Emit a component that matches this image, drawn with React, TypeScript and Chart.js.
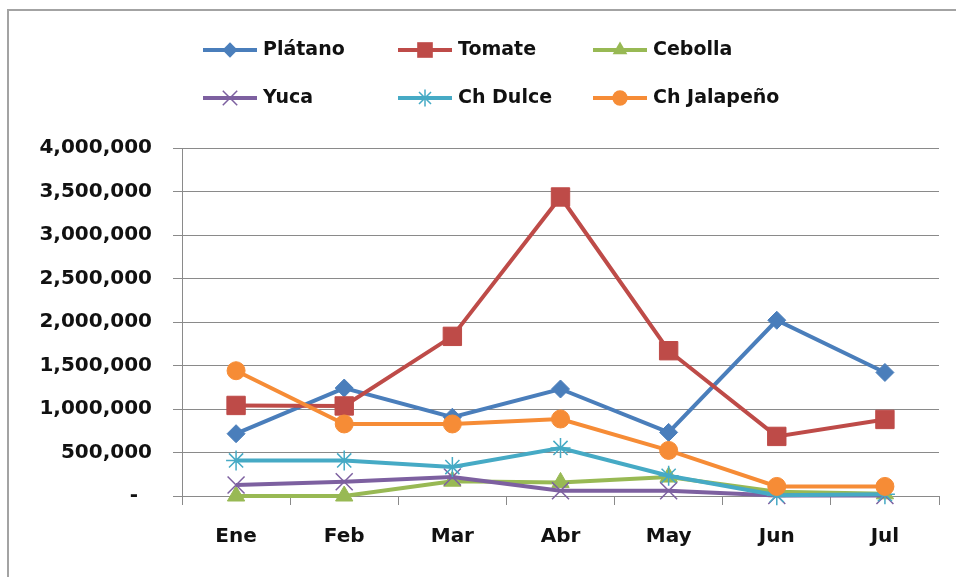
import React, { useEffect, useRef } from "react";
import { Chart, registerables } from "chart.js";

Chart.register(...registerables);

const months = ["Ene", "Feb", "Mar", "Abr", "May", "Jun", "Jul"];
const seriesNames = ["Plátano", "Tomate", "Cebolla", "Yuca", "Ch Dulce", "Ch Jalapeño"];
const platano = [716000, 1241000, 905000, 1230000, 731000, 2020000, 1420000];
const tomate = [1041000, 1035000, 1835000, 3437000, 1670000, 685000, 880000];
const cebolla = [0, 0, 170000, 156000, 218000, 50000, 25000];
const yuca = [126000, 164000, 218000, 61000, 60000, 5000, 5000];
const chDulce = [409000, 409000, 333000, 552000, 233000, 10000, 20000];
const chJalapeno = [1440000, 828000, 828000, 885000, 524000, 110000, 110000];
const yMin = 0;
const yMax = 4000000;
const yStep = 500000;

const seriesValues = [platano, tomate, cebolla, yuca, chDulce, chJalapeno];
const colors = ["#4A7EBB", "#BE4B48", "#98B954", "#7D60A0", "#46AAC5", "#F68C36"];
const pointStyles = ["rectRot", "rect", "triangle", "crossRot", "star", "circle"];
const pointRadii = [9, 13, 10, 12, 10, 9];

const FONT = '"DejaVu Sans", sans-serif';

function drawShape(ctx: CanvasRenderingContext2D, style: string, x: number, y: number, r: number, color: string) {
  ctx.save();
  ctx.fillStyle = color;
  ctx.strokeStyle = color;
  ctx.lineWidth = 1.5;
  ctx.beginPath();
  if (style === "rectRot") {
    ctx.moveTo(x - r, y);
    ctx.lineTo(x, y - r);
    ctx.lineTo(x + r, y);
    ctx.lineTo(x, y + r);
    ctx.closePath();
    ctx.fill();
  } else if (style === "rect") {
    const s = Math.SQRT1_2 * r;
    ctx.rect(x - s, y - s, 2 * s, 2 * s);
    ctx.fill();
  } else if (style === "triangle") {
    const a = (Math.PI * 2) / 3;
    for (let i = 0; i < 3; i++) {
      const ang = -Math.PI / 2 + i * a;
      const px = x + Math.cos(ang) * r;
      const py = y + Math.sin(ang) * r;
      if (i === 0) ctx.moveTo(px, py);
      else ctx.lineTo(px, py);
    }
    ctx.closePath();
    ctx.fill();
  } else if (style === "circle") {
    ctx.arc(x, y, r, 0, Math.PI * 2);
    ctx.fill();
  } else if (style === "crossRot" || style === "star") {
    const d = Math.cos(Math.PI / 4) * r;
    ctx.moveTo(x - d, y - d);
    ctx.lineTo(x + d, y + d);
    ctx.moveTo(x - d, y + d);
    ctx.lineTo(x + d, y - d);
    if (style === "star") {
      ctx.moveTo(x, y - r);
      ctx.lineTo(x, y + r);
      ctx.moveTo(x - r, y);
      ctx.lineTo(x + r, y);
    }
    ctx.stroke();
  }
  ctx.restore();
}

const gridLegendPlugin = {
  id: "gridLegend",
  afterDraw(chart: any) {
    const ctx: CanvasRenderingContext2D = chart.ctx;
    const colX = [203, 398, 593];
    const rowY = [50, 98];
    chart.data.datasets.forEach((ds: any, i: number) => {
      const x = colX[i % 3];
      const y = rowY[Math.floor(i / 3)];
      ctx.save();
      ctx.strokeStyle = ds.borderColor;
      ctx.lineWidth = 4;
      ctx.beginPath();
      ctx.moveTo(x, y);
      ctx.lineTo(x + 54, y);
      ctx.stroke();
      ctx.restore();
      drawShape(ctx, ds.pointStyle, x + 27, y, ds.pointRadius * 0.85, ds.borderColor);
      ctx.save();
      ctx.font = "bold 19px " + FONT;
      ctx.fillStyle = "#111111";
      ctx.textAlign = "left";
      ctx.textBaseline = "middle";
      ctx.fillText(ds.label, x + 60, y);
      ctx.restore();
    });
  },
};

export default function App() {
  const canvasRef = useRef<HTMLCanvasElement | null>(null);

  useEffect(() => {
    if (!canvasRef.current) return;
    const gridColor = "#8a8a8a";
    const chart = new Chart(canvasRef.current, {
      type: "line",
      data: {
        labels: months,
        datasets: seriesNames.map((name, i) => ({
          label: name,
          data: seriesValues[i],
          borderColor: colors[i],
          backgroundColor: colors[i],
          borderWidth: 4,
          pointStyle: pointStyles[i] as any,
          pointRadius: pointRadii[i],
          pointHoverRadius: pointRadii[i],
          pointBackgroundColor: colors[i],
          pointBorderColor: colors[i],
          pointBorderWidth: pointStyles[i] === "crossRot" || pointStyles[i] === "star" ? 1.5 : 1,
          tension: 0,
          fill: false,
          clip: false as any,
          order: -i,
        })),
      },
      options: {
        animation: false,
        responsive: false,
        maintainAspectRatio: false,
        layout: { padding: { top: 148, right: 17, left: 0, bottom: 0 } },
        plugins: {
          legend: { display: false },
          tooltip: { enabled: false },
          title: { display: false },
        },
        scales: {
          x: {
            type: "category",
            offset: true,
            grid: {
              display: true,
              drawOnChartArea: false,
              drawTicks: true,
              offset: true,
              tickLength: 9,
              color: gridColor,
            },
            border: { display: true, color: gridColor },
            ticks: {
              font: { family: FONT, size: 20, weight: "bold" },
              color: "#111111",
              padding: 20,
              maxRotation: 0,
              autoSkip: false,
            },
            afterFit(scale: any) {
              scale.height = 81;
            },
          },
          y: {
            min: yMin,
            max: yMax,
            grid: { color: gridColor, tickLength: 9 },
            border: { display: true, color: gridColor },
            ticks: {
              stepSize: yStep,
              font: { family: FONT, size: 20, weight: "bold" },
              color: "#111111",
              padding: 21,
              callback: (v: any) => (Number(v) === 0 ? "-  " : Number(v).toLocaleString("en-US")),
            },
            afterFit(scale: any) {
              scale.width = 182;
            },
          },
        },
      },
      plugins: [gridLegendPlugin],
    });
    return () => chart.destroy();
  }, []);

  return (
    <div style={{ position: "fixed", left: 0, top: 0, width: 956, height: 577, background: "#ffffff", overflow: "hidden" }}>
      <div
        style={{
          position: "absolute",
          left: 7,
          top: 9,
          width: 960,
          height: 580,
          borderLeft: "2px solid #a3a3a3",
          borderTop: "2px solid #a3a3a3",
        }}
      />
      <canvas ref={canvasRef} width={956} height={577} style={{ position: "absolute", left: 0, top: 0 }} />
    </div>
  );
}
